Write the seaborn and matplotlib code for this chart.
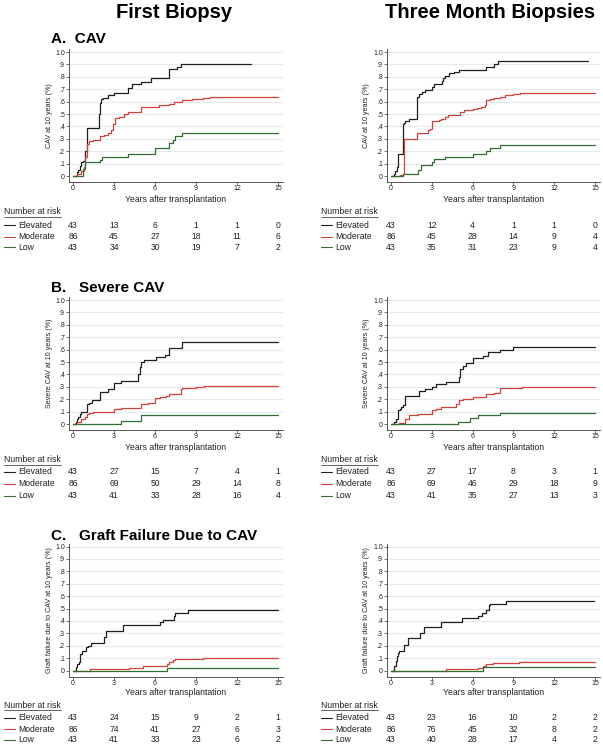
import numpy as np
import pandas as pd
import matplotlib
matplotlib.use("Agg")
import matplotlib.pyplot as plt
import matplotlib.transforms as mtransforms
from matplotlib.lines import Line2D
import seaborn as sns

W, H = 603, 746

sns.set_theme(style="white")
plt.rcParams['font.family'] = ['Liberation Sans', 'DejaVu Sans']

groups = ["Elevated", "Moderate", "Low"]
palette = {"Elevated": "#1f1f1f", "Moderate": "#d3413b", "Low": "#2f6e30"}

column_titles = ["First Biopsy", "Three Month Biopsies"]
panel_titles = ["A.  CAV", "B.   Severe CAV", "C.   Graft Failure Due to CAV"]
ylabels = ["CAV at 10 years (%)", "Severe CAV at 10 years (%)",
           "Graft failure due to CAV at 10 years (%)"]
xlabel = "Years after transplantation"
xticks = [0, 3, 6, 9, 12, 15]
yticks = [0, 0.1, 0.2, 0.3, 0.4, 0.5, 0.6, 0.7, 0.8, 0.9, 1.0]
ytick_labels = ["0", ".1", ".2", ".3", ".4", ".5", ".6", ".7", ".8", ".9", "1.0"]

# ---------------- A. CAV, first biopsy ----------------
a1_elev_t = [0, 0.3, 0.4, 0.5, 0.6, 0.75, 0.9, 1.0, 1.9, 1.95, 2.05, 2.2, 2.6, 3.0, 4.0, 4.3, 5.0, 5.7, 7.0, 7.6, 7.9, 13.0]
a1_elev_y = [0, 0.03, 0.05, 0.08, 0.11, 0.12, 0.2, 0.39, 0.5, 0.59, 0.62, 0.63, 0.65, 0.67, 0.71, 0.74, 0.76, 0.79, 0.86, 0.88, 0.905, 0.905]
a1_mod_t = [0, 0.3, 0.6, 0.8, 0.9, 1.0, 1.2, 1.5, 2.0, 2.3, 2.6, 2.8, 2.95, 3.1, 3.4, 3.7, 4.0, 5.0, 6.3, 7.0, 7.4, 8.0, 8.7, 9.5, 10.0, 15.0]
a1_mod_y = [0, 0.02, 0.04, 0.07, 0.15, 0.26, 0.28, 0.29, 0.32, 0.33, 0.35, 0.37, 0.42, 0.47, 0.48, 0.50, 0.52, 0.56, 0.57, 0.58, 0.60, 0.61, 0.62, 0.63, 0.64, 0.64]
a1_low_t = [0, 0.75, 0.85, 2.0, 2.1, 4.0, 6.0, 7.0, 7.3, 7.5, 8.0, 15.0]
a1_low_y = [0, 0.06, 0.11, 0.13, 0.155, 0.18, 0.23, 0.27, 0.29, 0.32, 0.345, 0.345]

# ---------------- A. CAV, three month ----------------
a2_elev_t = [0, 0.25, 0.3, 0.45, 0.5, 0.55, 0.85, 0.9, 0.95, 1.05, 1.3, 1.9, 1.95, 2.05, 2.25, 2.5, 3.05, 3.2, 3.75, 3.8, 4.0, 4.3, 4.6, 5.0, 7.0, 7.6, 7.9, 14.5]
a2_elev_y = [0, 0.02, 0.04, 0.07, 0.15, 0.18, 0.30, 0.42, 0.43, 0.44, 0.46, 0.60, 0.64, 0.66, 0.68, 0.69, 0.72, 0.74, 0.77, 0.79, 0.81, 0.83, 0.84, 0.855, 0.88, 0.90, 0.925, 0.925]
a2_mod_t = [0, 0.7, 0.85, 0.95, 1.95, 2.4, 2.7, 2.9, 3.05, 3.5, 3.7, 3.95, 4.2, 5.05, 5.4, 6.0, 6.3, 6.6, 6.9, 7.0, 7.3, 7.6, 8.0, 8.4, 9.0, 9.5, 15.0]
a2_mod_y = [0, 0.01, 0.02, 0.30, 0.345, 0.35, 0.37, 0.38, 0.44, 0.45, 0.46, 0.48, 0.49, 0.52, 0.53, 0.54, 0.55, 0.56, 0.57, 0.61, 0.62, 0.63, 0.64, 0.65, 0.66, 0.67, 0.67]
a2_low_t = [0, 0.85, 2.0, 2.2, 3.0, 3.2, 4.0, 6.05, 7.0, 7.3, 8.0, 15.0]
a2_low_y = [0, 0.02, 0.05, 0.09, 0.11, 0.135, 0.155, 0.18, 0.20, 0.23, 0.25, 0.25]

# ---------------- B. Severe CAV, first biopsy ----------------
b1_elev_t = [0, 0.2, 0.3, 0.4, 0.5, 0.6, 1.0, 1.2, 1.4, 2.0, 2.6, 3.0, 3.5, 4.75, 4.9, 5.0, 5.2, 6.05, 6.7, 7.0, 8.0, 15.0]
b1_elev_y = [0, 0.02, 0.04, 0.06, 0.08, 0.10, 0.16, 0.17, 0.19, 0.26, 0.28, 0.33, 0.35, 0.40, 0.46, 0.50, 0.52, 0.54, 0.56, 0.61, 0.66, 0.66]
b1_mod_t = [0, 0.3, 0.6, 0.9, 1.0, 1.2, 1.5, 3.0, 3.5, 5.0, 5.5, 6.0, 6.4, 6.8, 7.0, 7.9, 8.0, 9.0, 9.6, 15.0]
b1_mod_y = [0, 0.02, 0.04, 0.06, 0.08, 0.09, 0.10, 0.12, 0.13, 0.16, 0.17, 0.21, 0.22, 0.23, 0.24, 0.28, 0.29, 0.30, 0.31, 0.31]
b1_low_t = [0, 3.5, 4.95, 15.0]
b1_low_y = [0, 0.025, 0.075, 0.075]

# ---------------- B. Severe CAV, three month ----------------
b2_elev_t = [0, 0.25, 0.4, 0.5, 0.55, 0.65, 0.75, 0.9, 1.0, 2.05, 2.5, 3.0, 3.3, 4.05, 5.0, 5.1, 5.3, 5.5, 6.05, 6.8, 7.1, 8.0, 9.0, 15.0]
b2_elev_y = [0, 0.02, 0.04, 0.06, 0.11, 0.12, 0.14, 0.15, 0.23, 0.27, 0.28, 0.30, 0.32, 0.34, 0.38, 0.44, 0.47, 0.49, 0.53, 0.55, 0.58, 0.60, 0.625, 0.625]
b2_mod_t = [0, 0.6, 1.0, 1.3, 2.0, 3.05, 3.3, 3.7, 4.75, 5.0, 5.3, 6.05, 7.0, 7.6, 8.0, 9.6, 15.0]
b2_mod_y = [0, 0.01, 0.04, 0.07, 0.08, 0.11, 0.12, 0.14, 0.16, 0.19, 0.20, 0.22, 0.24, 0.25, 0.29, 0.30, 0.30]
b2_low_t = [0, 4.95, 5.8, 6.4, 8.0, 15.0]
b2_low_y = [0, 0.02, 0.045, 0.07, 0.09, 0.09]

# ---------------- C. Graft failure, first biopsy ----------------
c1_elev_t = [0, 0.2, 0.3, 0.45, 0.5, 0.55, 0.65, 0.95, 1.1, 1.3, 2.25, 2.45, 3.65, 6.4, 6.6, 7.4, 7.5, 8.4, 15.0]
c1_elev_y = [0, 0.03, 0.05, 0.07, 0.10, 0.13, 0.16, 0.19, 0.20, 0.22, 0.27, 0.32, 0.37, 0.39, 0.41, 0.44, 0.46, 0.485, 0.485]
c1_mod_t = [0, 1.25, 4.1, 5.15, 6.4, 6.85, 7.0, 7.3, 7.5, 9.55, 15.0]
c1_mod_y = [0, 0.01, 0.02, 0.035, 0.04, 0.05, 0.07, 0.085, 0.09, 0.10, 0.10]
c1_low_t = [0, 6.9, 15.0]
c1_low_y = [0, 0.02, 0.02]

# ---------------- C. Graft failure, three month ----------------
c2_elev_t = [0, 0.2, 0.35, 0.45, 0.5, 0.6, 0.95, 1.25, 2.15, 2.4, 3.65, 5.2, 6.4, 6.7, 7.0, 7.2, 7.3, 8.45, 14.9]
c2_elev_y = [0, 0.04, 0.08, 0.12, 0.14, 0.16, 0.21, 0.26, 0.30, 0.35, 0.39, 0.42, 0.44, 0.465, 0.49, 0.53, 0.54, 0.56, 0.56]
c2_mod_t = [0, 4.05, 6.4, 6.8, 7.0, 7.5, 9.4, 15.0]
c2_mod_y = [0, 0.01, 0.02, 0.04, 0.05, 0.06, 0.07, 0.07]
c2_low_t = [0, 6.8, 15.0]
c2_low_y = [0, 0.025, 0.025]

# ---------------- Number at risk ----------------
risk_a1 = {"Elevated": [43, 13, 6, 1, 1, 0], "Moderate": [86, 45, 27, 18, 11, 6], "Low": [43, 34, 30, 19, 7, 2]}
risk_a2 = {"Elevated": [43, 12, 4, 1, 1, 0], "Moderate": [86, 45, 28, 14, 9, 4], "Low": [43, 35, 31, 23, 9, 4]}
risk_b1 = {"Elevated": [43, 27, 15, 7, 4, 1], "Moderate": [86, 69, 50, 29, 14, 8], "Low": [43, 41, 33, 28, 16, 4]}
risk_b2 = {"Elevated": [43, 27, 17, 8, 3, 1], "Moderate": [86, 69, 46, 29, 18, 9], "Low": [43, 41, 35, 27, 13, 3]}
risk_c1 = {"Elevated": [43, 24, 15, 9, 2, 1], "Moderate": [86, 74, 41, 27, 6, 3], "Low": [43, 41, 33, 23, 6, 2]}
risk_c2 = {"Elevated": [43, 23, 16, 10, 2, 2], "Moderate": [86, 76, 45, 32, 8, 2], "Low": [43, 40, 28, 17, 4, 2]}

curves = [
    [[(a1_elev_t, a1_elev_y), (a1_mod_t, a1_mod_y), (a1_low_t, a1_low_y)],
     [(a2_elev_t, a2_elev_y), (a2_mod_t, a2_mod_y), (a2_low_t, a2_low_y)]],
    [[(b1_elev_t, b1_elev_y), (b1_mod_t, b1_mod_y), (b1_low_t, b1_low_y)],
     [(b2_elev_t, b2_elev_y), (b2_mod_t, b2_mod_y), (b2_low_t, b2_low_y)]],
    [[(c1_elev_t, c1_elev_y), (c1_mod_t, c1_mod_y), (c1_low_t, c1_low_y)],
     [(c2_elev_t, c2_elev_y), (c2_mod_t, c2_mod_y), (c2_low_t, c2_low_y)]],
]
risks = [[risk_a1, risk_a2], [risk_b1, risk_b2], [risk_c1, risk_c2]]

# ---------------- layout (pixels) ----------------
col_left = [69, 387]
col_width = [214, 213]
row_bottom = [182, 430, 676.5]
ax_h = 132.7
title_base = [43.3, 291.7, 540]
xlabel_y = [199, 447, 692.5]
nar_y = [212, 460, 705]
rows_y = [[225, 236.5, 247.5], [472, 484, 496], [717.5, 729, 740]]
ylabel_x = [49.5, 366]
table_x0 = [4, 321]

fig = plt.figure(figsize=(W / 100, H / 100), dpi=100)
fig.patch.set_facecolor("white")

def fx(x):
    return x / W

def fy(y):
    return 1 - y / H

spine_col = "#3a3a3a"
txt_col = "#222222"
grid_col = "#e3ebee"

fig.text(fx(174.5), fy(17.8), column_titles[0], ha="center", va="baseline",
         fontsize=14.5, weight="bold", color="black")
fig.text(fx(490.5), fy(17.8), column_titles[1], ha="center", va="baseline",
         fontsize=14.5, weight="bold", color="black")

nar_texts = []
for r in range(3):
    fig.text(fx(51), fy(title_base[r]), panel_titles[r], ha="left", va="baseline",
             fontsize=11, weight="bold", color="black")
    for c in range(2):
        ax = fig.add_axes([fx(col_left[c]), fy(row_bottom[r]),
                           col_width[c] / W, ax_h / H])
        ax.set_facecolor("white")
        frames = []
        for g, (t, y) in zip(groups, curves[r][c]):
            frames.append(pd.DataFrame({"time": t, "value": y, "group": g}))
        df = pd.concat(frames, ignore_index=True)
        for gv in [0.1, 0.2, 0.3, 0.4, 0.5, 0.6, 0.7, 0.8, 0.9, 1.0]:
            ax.axhline(gv, color=grid_col, lw=0.8, zorder=0)
        sns.lineplot(data=df, x="time", y="value", hue="group", hue_order=groups,
                     palette=palette, estimator=None, sort=False,
                     drawstyle="steps-post", legend=False, lw=0.9, ax=ax)
        ax.set_xlim(-0.29, 15.37)
        ax.set_ylim(-0.048, 1.022)
        ax.set_xticks(xticks)
        ax.set_xticklabels([str(v) for v in xticks])
        ax.set_yticks(yticks)
        ax.set_yticklabels(ytick_labels)
        for s in ["top", "right"]:
            ax.spines[s].set_visible(False)
        for s in ["left", "bottom"]:
            ax.spines[s].set_color(spine_col)
            ax.spines[s].set_linewidth(0.6)
        ax.tick_params(axis="both", which="major", bottom=True, left=True,
                       direction="out", length=2.0, width=0.5, color=spine_col,
                       labelsize=5, labelcolor=txt_col, pad=1)
        ax.tick_params(axis="x", pad=0.5)
        ax.set_ylabel(ylabels[r], fontsize=5.1, color=txt_col)
        ax.yaxis.set_label_coords((ylabel_x[c] - col_left[c]) / col_width[c], 0.5)
        ax.yaxis.label.set_va("center")
        ax.set_xlabel(xlabel, fontsize=6.2, color=txt_col)
        ax.xaxis.set_label_coords(0.5, (row_bottom[r] - xlabel_y[r]) / ax_h)
        ax.xaxis.label.set_va("center")

        # number at risk table
        t0 = table_x0[c]
        nt = fig.text(fx(t0), fy(nar_y[r]), "Number at risk", ha="left", va="center",
                      fontsize=6.2, color=txt_col)
        nar_texts.append(nt)
        trans = mtransforms.blended_transform_factory(ax.transData, fig.transFigure)
        for gi, g in enumerate(groups):
            yy = fy(rows_y[r][gi])
            fig.add_artist(Line2D([fx(t0), fx(t0 + 11)], [yy, yy], color=palette[g],
                                  lw=0.8, transform=fig.transFigure))
            fig.text(fx(t0 + 14.5), yy, g, ha="left", va="center",
                     fontsize=6.2, color=txt_col)
            for xv, n in zip(xticks, risks[r][c][g]):
                ax.text(xv, yy, str(n), transform=trans, ha="center", va="center",
                        fontsize=6.2, color=txt_col, clip_on=False)

# underline the "Number at risk" captions
fig.canvas.draw()
renderer = fig.canvas.get_renderer()
for nt in nar_texts:
    bb = nt.get_window_extent(renderer=renderer)
    x0, x1 = bb.x0 / W, bb.x1 / W
    yline = (bb.y0 - 0.3) / H
    fig.add_artist(Line2D([x0, x1], [yline, yline], color=txt_col, lw=0.5,
                          transform=fig.transFigure))

fig.savefig("out.png", dpi=100, facecolor="white")
